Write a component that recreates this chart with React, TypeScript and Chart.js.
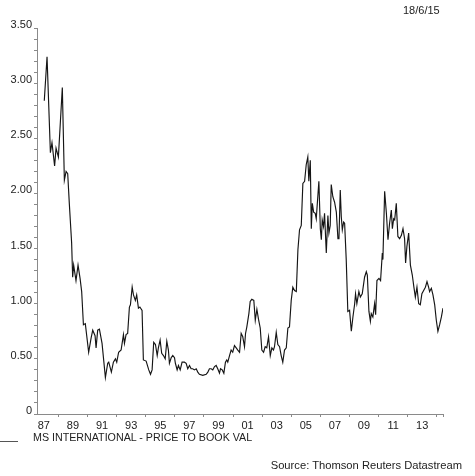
import React, { useEffect, useRef } from "react";
import { Chart, registerables } from "chart.js";

Chart.register(...registerables);

// Dates as decimal years
const dates: number[] = [
  1987.03, 1987.22, 1987.45, 1987.56, 1987.74, 1987.84, 1988.0, 1988.27, 1988.41, 1988.53,
  1988.64, 1988.75, 1988.91, 1988.98, 1989.05, 1989.21, 1989.35, 1989.49, 1989.6, 1989.72,
  1989.85, 1990.08, 1990.25, 1990.36, 1990.52, 1990.59, 1990.7, 1990.82, 1991.0, 1991.23,
  1991.39, 1991.46, 1991.64, 1991.78, 1991.92, 1992.01, 1992.14, 1992.31, 1992.47, 1992.54,
  1992.65, 1992.76, 1992.88, 1992.95, 1993.07, 1993.16, 1993.29, 1993.38, 1993.5, 1993.6,
  1993.75, 1993.84, 1994.03, 1994.21, 1994.33, 1994.44, 1994.55, 1994.67, 1994.79, 1994.87,
  1994.99, 1995.1, 1995.22, 1995.34, 1995.45, 1995.56, 1995.63, 1995.75, 1995.86, 1995.98,
  1996.04, 1996.16, 1996.25, 1996.37, 1996.5, 1996.66, 1996.78, 1996.89, 1997.01, 1997.12,
  1997.23, 1997.35, 1997.47, 1997.58, 1997.69, 1997.92, 1998.16, 1998.27, 1998.38, 1998.5,
  1998.61, 1998.73, 1998.84, 1998.95, 1999.07, 1999.14, 1999.26, 1999.37, 1999.48, 1999.57,
  1999.64, 1999.76, 1999.87, 1999.98, 2000.1, 2000.22, 2000.33, 2000.45, 2000.56, 2000.67,
  2000.79, 2000.86, 2000.95, 2001.09, 2001.18, 2001.29, 2001.43, 2001.53, 2001.64, 2001.75,
  2001.87, 2001.98, 2002.1, 2002.21, 2002.32, 2002.44, 2002.56, 2002.67, 2002.78, 2002.85,
  2002.97, 2003.08, 2003.2, 2003.31, 2003.42, 2003.54, 2003.66, 2003.77, 2003.88, 2004.0,
  2004.11, 2004.23, 2004.35, 2004.46, 2004.57, 2004.69, 2004.8, 2004.92, 2005.03, 2005.14,
  2005.21, 2005.31, 2005.38, 2005.45, 2005.54, 2005.65, 2005.72, 2005.9, 2006.0, 2006.07,
  2006.13, 2006.22, 2006.29, 2006.41, 2006.52, 2006.59, 2006.68, 2006.75, 2006.86, 2006.98,
  2007.1, 2007.21, 2007.28, 2007.37, 2007.44, 2007.51, 2007.6, 2007.67, 2007.78, 2007.89,
  2008.01, 2008.13, 2008.24, 2008.36, 2008.42, 2008.51, 2008.65, 2008.75, 2008.88, 2009.04,
  2009.16, 2009.23, 2009.34, 2009.44, 2009.5, 2009.61, 2009.73, 2009.8, 2009.89, 2010.03,
  2010.14, 2010.26, 2010.3, 2010.42, 2010.54, 2010.65, 2010.76, 2010.88, 2010.95, 2011.04,
  2011.11, 2011.22, 2011.33, 2011.45, 2011.57, 2011.68, 2011.79, 2011.86, 2011.95, 2012.07,
  2012.19, 2012.32, 2012.43, 2012.53, 2012.64, 2012.76, 2012.87, 2012.98, 2013.1, 2013.22,
  2013.33, 2013.44, 2013.51, 2013.63, 2013.74, 2013.86, 2013.97, 2014.08, 2014.2, 2014.32,
  2014.43,
];

// MS International - price to book value
const priceToBook: number[] = [
  2.84, 3.24, 2.37, 2.46, 2.25, 2.41, 2.33, 2.96, 2.12, 2.2,
  2.18, 1.91, 1.55, 1.24, 1.35, 1.21, 1.35, 1.23, 1.11, 0.81,
  0.82, 0.56, 0.69, 0.76, 0.71, 0.6, 0.76, 0.77, 0.64, 0.33,
  0.46, 0.47, 0.38, 0.47, 0.5, 0.47, 0.56, 0.58, 0.72, 0.64,
  0.72, 0.73, 0.97, 0.99, 1.15, 1.08, 1.03, 1.08, 0.96, 0.97,
  0.94, 0.49, 0.48, 0.4, 0.36, 0.4, 0.65, 0.63, 0.53, 0.6,
  0.67, 0.55, 0.53, 0.5, 0.66, 0.58, 0.46, 0.51, 0.53, 0.51,
  0.46, 0.4, 0.44, 0.4, 0.47, 0.47, 0.46, 0.41, 0.44, 0.41,
  0.41, 0.4, 0.41, 0.38, 0.36, 0.35, 0.36, 0.38, 0.41, 0.41,
  0.4, 0.43, 0.44, 0.41, 0.37, 0.41, 0.4, 0.37, 0.47, 0.49,
  0.47, 0.53, 0.58, 0.56, 0.62, 0.6, 0.58, 0.56, 0.73, 0.7,
  0.61, 0.73, 0.79, 0.91, 1.02, 1.04, 1.03, 0.85, 0.95, 0.86,
  0.78, 0.58, 0.56, 0.61, 0.6, 0.7, 0.53, 0.6, 0.58, 0.61,
  0.74, 0.63, 0.61, 0.53, 0.47, 0.58, 0.6, 0.78, 0.79, 1.03,
  1.15, 1.12, 1.11, 1.49, 1.67, 1.71, 2.09, 2.11, 2.26, 2.33,
  2.11, 2.3, 1.68, 1.91, 1.83, 1.82, 1.77, 2.11, 1.68, 1.58,
  1.76, 1.7, 1.82, 1.46, 1.8, 1.64, 1.71, 2.08, 1.97, 1.92,
  1.83, 1.59, 1.59, 2.03, 1.79, 1.67, 1.74, 1.73, 1.4, 0.93,
  0.94, 0.75, 0.88, 1.0, 1.09, 1.0, 1.11, 1.06, 1.09, 1.24,
  1.29, 1.26, 0.93, 0.84, 0.91, 0.88, 1.0, 0.9, 1.21, 1.23,
  1.21, 1.46, 1.4, 2.02, 1.82, 1.58, 1.73, 1.85, 1.68, 1.77,
  1.76, 1.91, 1.61, 1.59, 1.62, 1.68, 1.59, 1.37, 1.52, 1.64,
  1.35, 1.26, 1.15, 1.06, 1.15, 1.0, 0.99, 1.09, 1.12, 1.15,
  1.2, 1.15, 1.11, 1.14, 1.08, 0.99, 0.85, 0.75, 0.81, 0.88,
  0.96,
];

// Axis definitions
const xMin = 1986.53;
const xMax = 2014.43;
const xTickMarkYears: number[] = [1988, 1990, 1992, 1994, 1996, 1998, 2000, 2002, 2004, 2006, 2008, 2010, 2012, 2014];
const xLabelYears: number[] = [1987, 1989, 1991, 1993, 1995, 1997, 1999, 2001, 2003, 2005, 2007, 2009, 2011, 2013];
const xLabels: string[] = ["87", "89", "91", "93", "95", "97", "99", "01", "03", "05", "07", "09", "11", "13"];
const yMin = 0;
const yMax = 3.5;
const yMinorStep = 0.1;
const yLabels: string[] = ["0", "0.50", "1.00", "1.50", "2.00", "2.50", "3.00", "3.50"];

const seriesName = "MS INTERNATIONAL - PRICE TO BOOK VAL";
const dateStamp = "18/6/15";
const sourceText = "Source: Thomson Reuters Datastream";

const FONT = '"Liberation Sans", Arial, Helvetica, sans-serif';
const TEXT = "#222";
const AXIS = "#8a8a8a";

export default function App() {
  const ref = useRef<HTMLCanvasElement | null>(null);

  useEffect(() => {
    if (!ref.current) return;
    const points = dates.map((d, i) => ({ x: d, y: priceToBook[i] }));
    const yTicks: number[] = [];
    const nY = Math.round((yMax - yMin) / yMinorStep);
    for (let i = 0; i <= nY; i++) yTicks.push(Math.round((yMin + i * yMinorStep) * 10) / 10);
    const xTicks = [...xLabelYears, ...xTickMarkYears, xMax].sort((a, b) => a - b);

    const chart = new Chart(ref.current, {
      type: "line",
      data: {
        datasets: [
          {
            label: seriesName,
            data: points,
            borderColor: "#151515",
            borderWidth: 1.15,
            pointRadius: 0,
            tension: 0,
            fill: false,
          },
        ],
      },
      options: {
        responsive: false,
        animation: false,
        events: [],
        layout: { padding: { top: 28, right: 32, left: 0, bottom: 0 } },
        plugins: { legend: { display: false }, tooltip: { enabled: false }, title: { display: false } },
        scales: {
          x: {
            type: "linear",
            min: xMin,
            max: xMax,
            afterFit: (s: any) => {
              s.height = 62;
            },
            afterBuildTicks: (s: any) => {
              s.ticks = xTicks.map((v) => ({ value: v }));
            },
            ticks: {
              autoSkip: false,
              maxRotation: 0,
              minRotation: 0,
              padding: 2,
              color: TEXT,
              font: { family: FONT, size: 11 },
              callback: (v: any) => {
                const idx = xLabelYears.indexOf(Number(v));
                return idx >= 0 ? xLabels[idx] : "";
              },
            },
            grid: {
              drawOnChartArea: false,
              drawTicks: true,
              tickLength: 3,
              color: (ctx: any) => {
                const v = ctx.tick ? ctx.tick.value : null;
                return v !== null && (xTickMarkYears.includes(v) || v === xMax) ? AXIS : "rgba(0,0,0,0)";
              },
            },
            border: { display: true, color: AXIS, width: 1 },
          },
          y: {
            type: "linear",
            min: yMin,
            max: yMax,
            afterFit: (s: any) => {
              s.width = 37;
            },
            afterBuildTicks: (s: any) => {
              s.ticks = yTicks.map((v) => ({ value: v }));
            },
            ticks: {
              autoSkip: false,
              padding: 2,
              labelOffset: -3,
              color: TEXT,
              font: { family: FONT, size: 11 },
              callback: (v: any) => {
                const tenth = Math.round(Number(v) * 10);
                return tenth % 5 === 0 ? yLabels[tenth / 5] : "";
              },
            },
            grid: { drawOnChartArea: false, drawTicks: true, tickLength: 3, color: AXIS },
            border: { display: true, color: AXIS, width: 1 },
          },
        },
      },
    });
    return () => chart.destroy();
  }, []);

  const txt: React.CSSProperties = {
    position: "absolute",
    fontFamily: FONT,
    color: TEXT,
    whiteSpace: "nowrap",
    lineHeight: "13px",
  };

  return (
    <div style={{ position: "fixed", left: 0, top: 0, width: 475, height: 476, background: "#fff", overflow: "hidden" }}>
      <canvas ref={ref} width={475} height={476} style={{ position: "absolute", left: 0, top: 0 }} />
      <div style={{ ...txt, left: 403, top: 4, fontSize: 11 }}>{dateStamp}</div>
      <div style={{ position: "absolute", left: 0, top: 441, width: 18, height: 1, background: "#555" }} />
      <div style={{ ...txt, left: 33, top: 431, fontSize: 10.7 }}>{seriesName}</div>
      <div style={{ ...txt, right: 13, top: 459, fontSize: 11.2 }}>{sourceText}</div>
    </div>
  );
}
